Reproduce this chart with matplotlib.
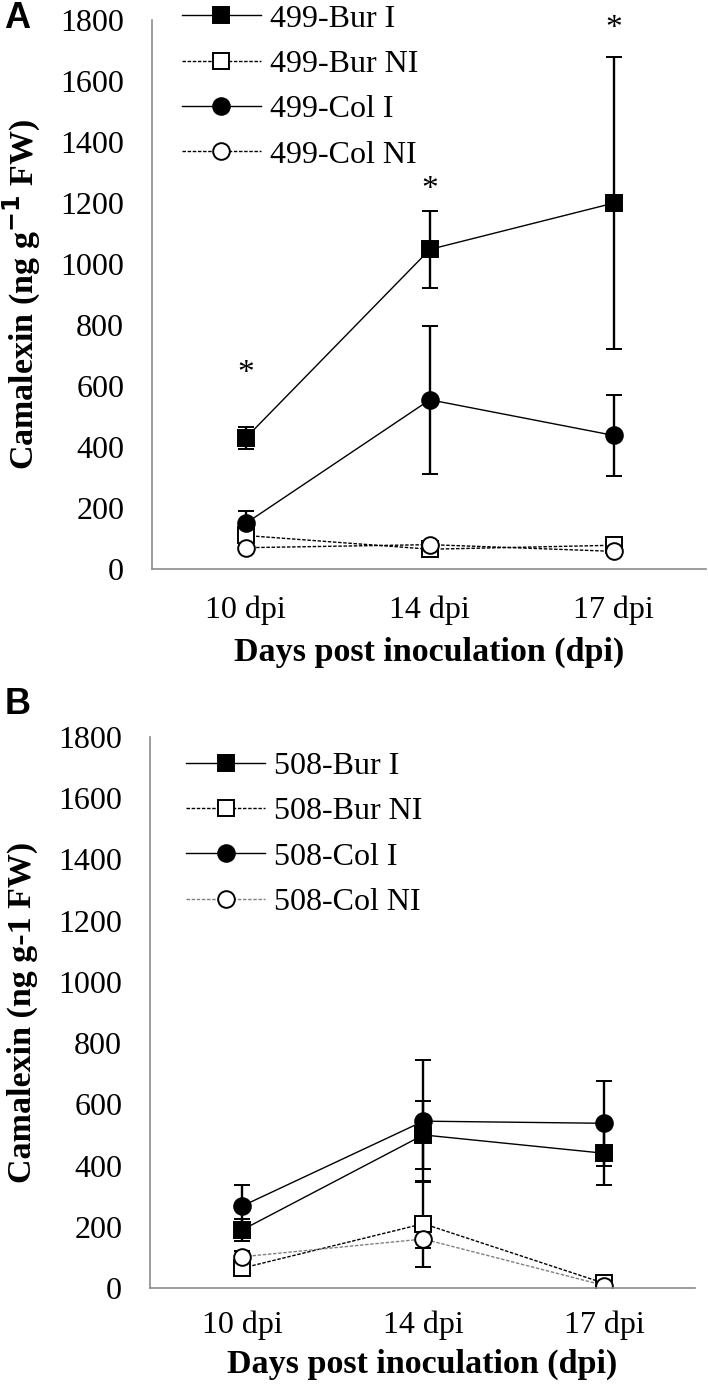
import matplotlib
matplotlib.use("Agg")
import matplotlib.pyplot as plt

plt.rcParams['font.family'] = ['Liberation Serif', 'DejaVu Serif']

# days post inoculation
dias = ['10 dpi', '14 dpi', '17 dpi']

# painel A (isolado 499)
a_bur_i = [430, 1048, 1200]
a_bur_i_err = [35, 126, 480]
a_bur_ni = [110, 65, 78]
a_bur_ni_err = [15, 12, 15]
a_col_i = [150, 555, 438]
a_col_i_err = [40, 243, 133]
a_col_ni = [70, 80, 58]
a_col_ni_err = [10, 10, 12]
a_estrelas = [640, 1245, 1772]

# painel B (isolado 508)
b_bur_i = [190, 500, 440]
b_bur_i_err = [35, 110, 105]
b_bur_ni = [65, 210, 15]
b_bur_ni_err = [15, 140, 8]
b_col_i = [268, 545, 538]
b_col_i_err = [68, 200, 138]
b_col_ni = [102, 160, 8]
b_col_ni_err = [20, 30, 5]

x = list(range(len(dias)))
fs_tick = 23
fs_lab = 24.5

fig = plt.figure(figsize=(7.08, 13.93), dpi=100)
axA = fig.add_axes([0.2147, 0.5915, 0.7823, 0.3941])
axB = fig.add_axes([0.2119, 0.0754, 0.7697, 0.3955])

def desenha(ax, series, ylabel, ylab_x, xlab_y, xpad, leg_anchor):
    linhas = []
    nomes = []
    for y, err, mk, face, ls, cor, nome in series:
        c = ax.errorbar(x, y, yerr=err, marker=mk, markersize=12, markerfacecolor=face,
                        markeredgecolor='black', markeredgewidth=1.4, color=cor,
                        linestyle=ls, linewidth=1.0, ecolor='black', elinewidth=1.7,
                        capsize=5.5, capthick=1.7)
        linhas.append(c[0])
        nomes.append(nome)
    ax.set_xlim(-0.51, 2.5)
    ax.set_ylim(0, 1800)
    ax.set_yticks(range(0, 1801, 200))
    ax.set_xticks(x)
    ax.set_xticklabels(dias)
    ax.tick_params(axis='both', length=0, labelsize=fs_tick)
    ax.tick_params(axis='y', pad=20)
    ax.tick_params(axis='x', pad=xpad)
    for s in ['top', 'right']:
        ax.spines[s].set_visible(False)
    for s in ['left', 'bottom']:
        ax.spines[s].set_color('#8c8c8c')
        ax.spines[s].set_linewidth(1.2)
    ax.set_ylabel(ylabel, fontsize=fs_lab, fontweight='bold')
    ax.yaxis.set_label_coords(ylab_x, 0.5)
    ax.set_xlabel('Days post inoculation (dpi)', fontsize=fs_lab, fontweight='bold')
    ax.xaxis.set_label_coords(0.5, xlab_y)
    ax.legend(linhas, nomes, loc='upper left', bbox_to_anchor=leg_anchor,
              bbox_transform=fig.transFigure, frameon=False, fontsize=fs_tick,
              borderpad=0, borderaxespad=0, handlelength=2.47, handletextpad=0.28,
              labelspacing=0.5)

dash = (0, (2.5, 1.2))
desenha(axA, [
    (a_bur_i, a_bur_i_err, 's', 'black', '-', 'black', '499-Bur I'),
    (a_bur_ni, a_bur_ni_err, 's', 'white', dash, 'black', '499-Bur NI'),
    (a_col_i, a_col_i_err, 'o', 'black', '-', 'black', '499-Col I'),
    (a_col_ni, a_col_ni_err, 'o', 'white', dash, 'black', '499-Col NI'),
], 'Camalexin (ng g$^{\\mathbf{-1}}$ FW)', -0.197, -0.124, 19, (0.257, 0.997))

desenha(axB, [
    (b_bur_i, b_bur_i_err, 's', 'black', '-', 'black', '508-Bur I'),
    (b_bur_ni, b_bur_ni_err, 's', 'white', dash, 'black', '508-Bur NI'),
    (b_col_i, b_col_i_err, 'o', 'black', '-', 'black', '508-Col I'),
    (b_col_ni, b_col_ni_err, 'o', 'white', dash, '#808080', '508-Col NI'),
], 'Camalexin (ng g-1 FW)', -0.205, -0.11, 16, (0.263, 0.4605))

# asteriscos de significancia
for xi, yi in zip(x, a_estrelas):
    axA.text(xi, yi, '*', ha='center', va='center', fontsize=24)

fig.text(0.006, 0.9864, 'A', family='Liberation Sans', fontweight='bold', fontsize=26, va='center')
fig.text(0.006, 0.4939, 'B', family='Liberation Sans', fontweight='bold', fontsize=26, va='center')

fig.savefig('out.png', dpi=100)
